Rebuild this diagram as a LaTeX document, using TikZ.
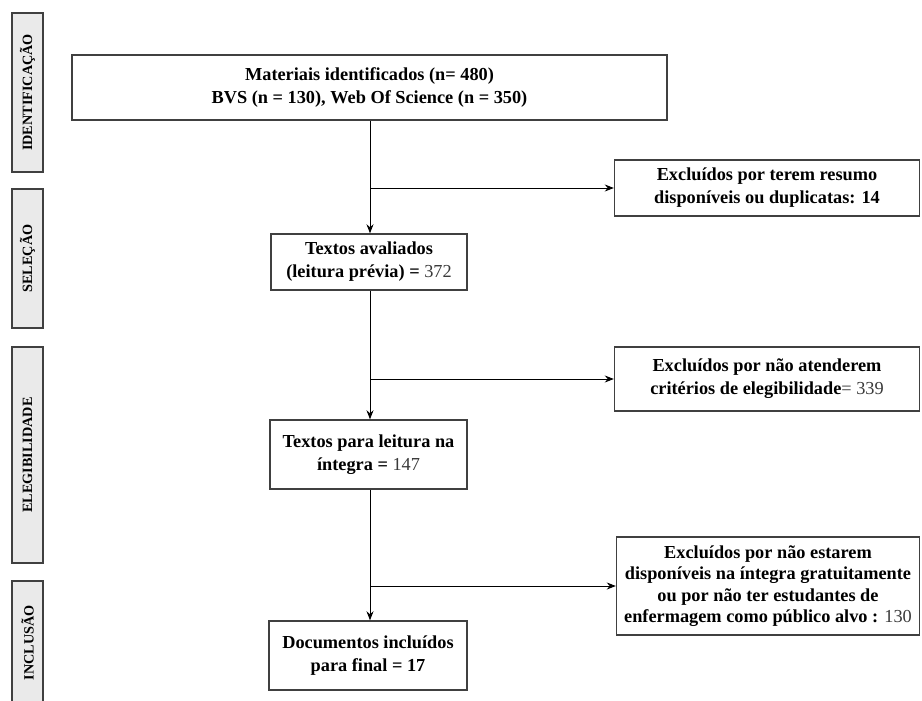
\documentclass[tikz,border=0pt]{standalone}
\usepackage{fontspec}
\setmainfont{Liberation Serif}
\usetikzlibrary{arrows.meta}
\definecolor{framegray}{HTML}{404040}
\definecolor{sidefill}{HTML}{EAEAEA}
\definecolor{numgray}{HTML}{3A3A3A}
\tikzset{every picture/.style={line width=0.75pt}}
\tikzset{
  stagebox/.style={draw=framegray, fill=white, line width=1.4pt, align=center,
    font=\fontsize{18.3}{23}\selectfont\bfseries, inner sep=2pt},
  sidebox/.style={draw=framegray, fill=sidefill, line width=1.4pt, rotate=90,
    minimum height=31pt, inner sep=0pt, font=\fontsize{14.2}{15}\selectfont\bfseries},
  flow/.style={draw=black, line width=0.9pt, -{Stealth[length=9pt,width=7pt]}},
}
\newcommand{\nrm}[1]{{\mdseries\color{numgray}#1}}

\begin{document}
\begin{tikzpicture}[x=1pt,y=1pt,yscale=-1,xscale=1]
    \clip (0,0) rectangle (922,701);
    % phases
    \node[sidebox, minimum width=159pt] (ident) at (27.5,92.5) {IDENTIFICAÇÃO};
    \node[sidebox, minimum width=139pt] (selec) at (27.5,258.5) {SELEÇÃO};
    \node[sidebox, minimum width=216pt] (elegib) at (27.5,455) {ELEGIBILIDADE};
    \node[sidebox, minimum width=124pt] (inclus) at (27.5,643) {INCLUSÃO};
    % main boxes
    \node[stagebox, minimum width=595pt, minimum height=65pt] (mat) at (369.5,87.5)
        {Materiais identificados (n= 480)\\BVS (n = 130), Web Of Science (n = 350)};
    \node[stagebox, minimum width=196pt, minimum height=56pt] (aval) at (369,262)
        {Textos avaliados\\(leitura prévia) = \nrm{372}};
    \node[stagebox, minimum width=197pt, minimum height=69pt] (integ) at (368.5,454.5)
        {Textos para leitura na\\íntegra = \nrm{147}};
    \node[stagebox, minimum width=198pt, minimum height=69pt] (incl) at (368,655.5)
        {Documentos incluídos\\para final = 17};
    % exclusions
    \node[stagebox, minimum width=305pt, minimum height=56pt] (exc1) at (767,188)
        {Excluídos por terem resumo\\disponíveis ou duplicatas: 14};
    \node[stagebox, minimum width=305pt, minimum height=64pt] (exc2) at (767,379)
        {Excluídos por não atenderem\\critérios de elegibilidade\nrm{= 339}};
    \node[stagebox, minimum width=303pt, minimum height=98pt, font=\fontsize{18.3}{21.5}\selectfont\bfseries] (exc3) at (768,586)
        {Excluídos por não estarem\\disponíveis na íntegra gratuitamente\\ou por não ter estudantes de\\enfermagem como público alvo : \nrm{130}};
    % branch points
    \coordinate (b1) at (370,188);
    \coordinate (b2) at (370,379);
    \coordinate (b3) at (370,586);
    \draw[flow] (mat.south -| b1) -- (aval.north -| b1);
    \draw[flow] (aval.south -| b2) -- (integ.north -| b2);
    \draw[flow] (integ.south -| b3) -- (incl.north -| b3);
    \draw[flow] (b1) -- (exc1.west);
    \draw[flow] (b2) -- (exc2.west);
    \draw[flow] (b3) -- (exc3.west);
\end{tikzpicture}
\end{document}
